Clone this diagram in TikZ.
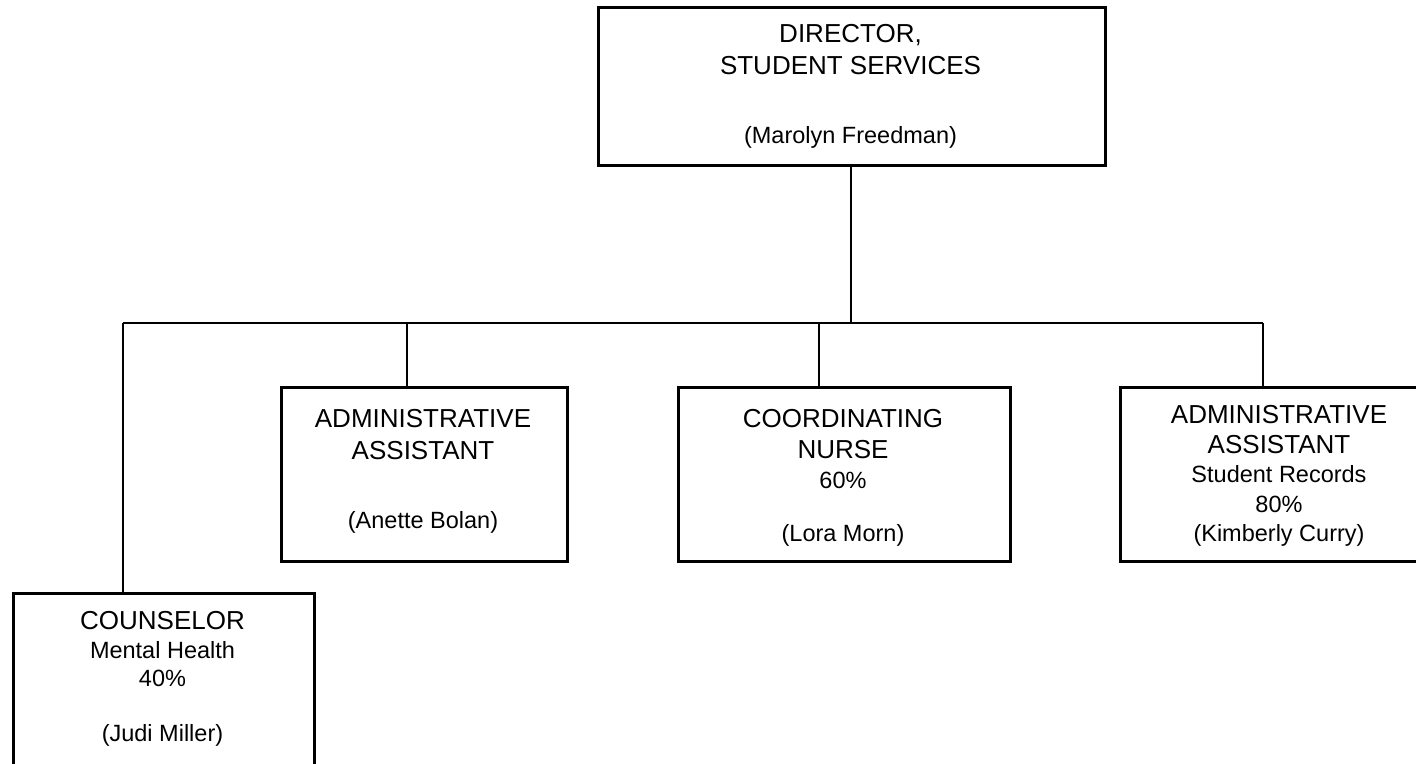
\documentclass[tikz,border=0pt]{standalone}
\usepackage{fontspec}
\setmainfont{Liberation Sans}
\tikzset{
  box/.style={draw, line width=2.7pt, rectangle, inner sep=0pt, anchor=north west},
  conn/.style={line width=2.5pt},
  big/.style={anchor=base, font=\fontsize{26}{30}\selectfont, inner sep=0pt},
  small/.style={anchor=base, font=\fontsize{23.5}{27}\selectfont, inner sep=0pt},
}
\begin{document}
\begin{tikzpicture}[x=1pt,y=-1pt]
\useasboundingbox (0,0) rectangle (1416,763);
\clip (0,0) rectangle (1416,763);

% boxes
\node[box, minimum width=507pt, minimum height=158pt] (dir)   at (597,6)   {};
\node[box, minimum width=286pt, minimum height=174pt] (a1)    at (280,386) {};
\node[box, minimum width=332pt, minimum height=174pt] (nurse) at (677,386) {};
\node[box, minimum width=320pt, minimum height=174pt] (a2)    at (1119,386) {};
\node[box, minimum width=301pt, minimum height=200pt] (couns) at (12,592)  {};

% director text
\node[big]   (d1) at (850.5,42.3)  {DIRECTOR,};
\node[big]   (d2) at (850.5,74.3)  {STUDENT SERVICES};
\node[small] (d3) at (850.5,143.4) {(Marolyn Freedman)};

% admin assistant 1
\node[big]   (a1t1) at (423,427.3) {ADMINISTRATIVE};
\node[big]   (a1t2) at (423,459.3) {ASSISTANT};
\node[small] (a1t3) at (423,528.4) {(Anette Bolan)};

% coordinating nurse
\node[big]   (n1) at (843,427.3) {COORDINATING};
\node[big]   (n2) at (843,458.3) {NURSE};
\node[small] (n3) at (843,488.4) {60\%};
\node[small] (n4) at (843,541.4) {(Lora Morn)};

% admin assistant 2
\node[big]   (a2t1) at (1279,423.3) {ADMINISTRATIVE};
\node[big]   (a2t2) at (1279,453.3) {ASSISTANT};
\node[small] (a2t3) at (1279,482.4) {Student Records};
\node[small] (a2t4) at (1279,512.4) {80\%};
\node[small] (a2t5) at (1279,541.4) {(Kimberly Curry)};

% counselor
\node[big]   (c1) at (162.5,629.3) {COUNSELOR};
\node[small] (c2) at (162.5,658.4) {Mental Health};
\node[small] (c3) at (162.5,686.4) {40\%};
\node[small] (c4) at (162.5,741.4) {(Judi Miller)};

% connectors
\coordinate (busL) at (123,323);
\coordinate (busR) at (1263,323);
\coordinate (t1) at (407,323);
\coordinate (t2) at (819,323);
\coordinate (td) at (851,323);

\draw[conn] (dir.south -| td) -- (td);
\draw[conn] (busL) -- (busR);
\draw[conn] (busL) -- (couns.north -| busL);
\draw[conn] (t1) -- (a1.north -| t1);
\draw[conn] (t2) -- (nurse.north -| t2);
\draw[conn] (busR) -- (a2.north -| busR);
\end{tikzpicture}
\end{document}
